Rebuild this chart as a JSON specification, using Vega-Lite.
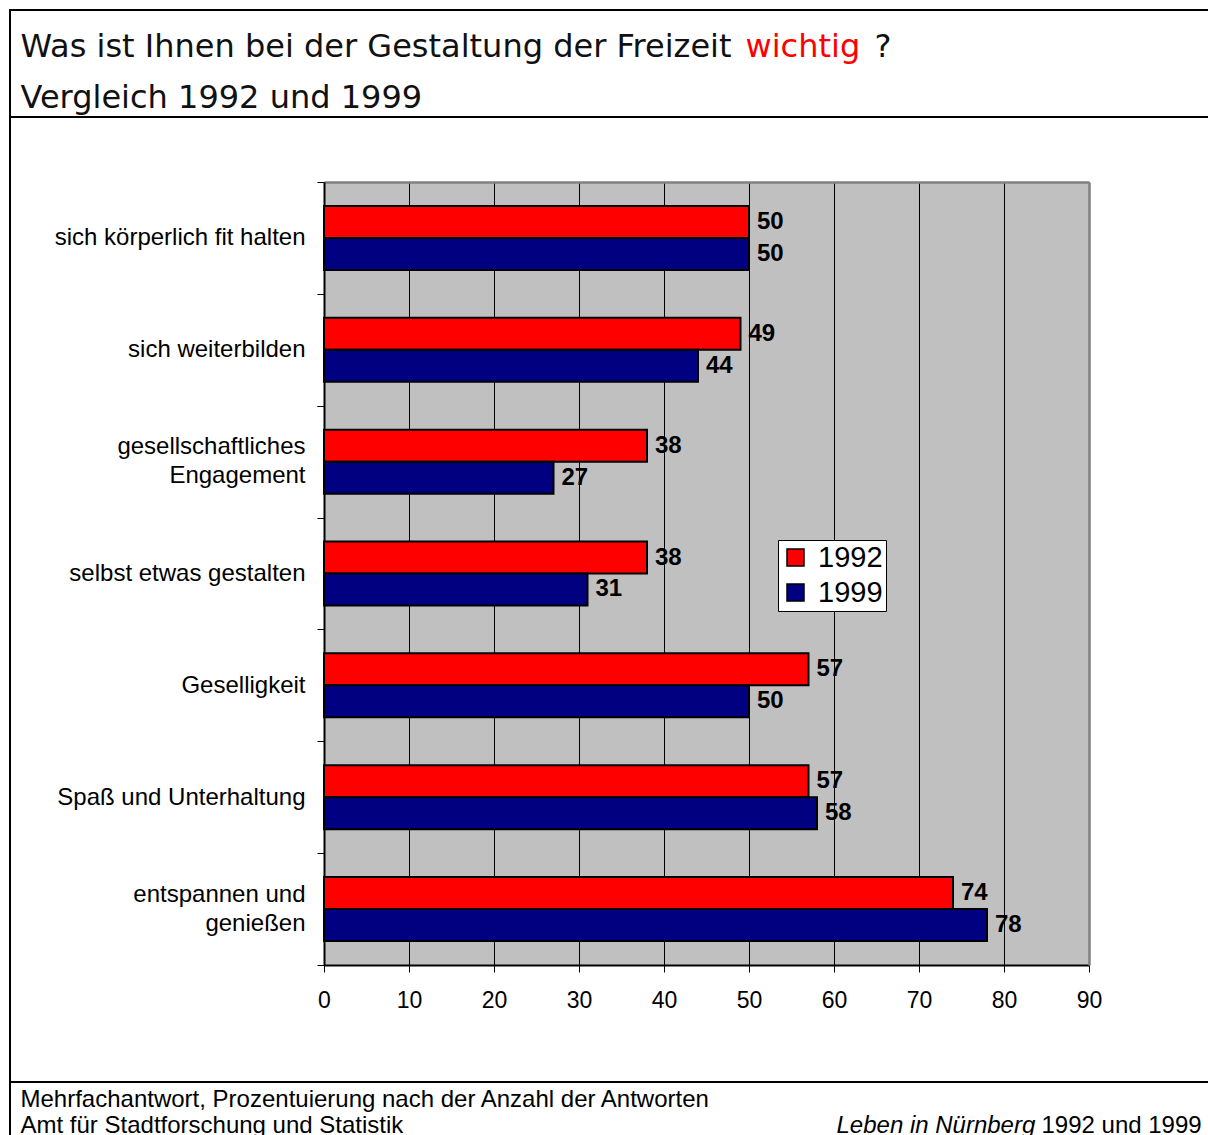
{
  "$schema": "https://vega.github.io/schema/vega-lite/v6.json",
  "background": "white",
  "padding": {"left": 9, "top": 9, "right": 0, "bottom": 0},
  "spacing": 0,
  "bounds": "flush",
  "datasets": {
    "answers": [
      {"cat": "sich körperlich fit halten", "year": "1992", "value": 50},
      {"cat": "sich körperlich fit halten", "year": "1999", "value": 50},
      {"cat": "sich weiterbilden", "year": "1992", "value": 49},
      {"cat": "sich weiterbilden", "year": "1999", "value": 44},
      {"cat": "gesellschaftliches|Engagement", "year": "1992", "value": 38},
      {"cat": "gesellschaftliches|Engagement", "year": "1999", "value": 27},
      {"cat": "selbst etwas gestalten", "year": "1992", "value": 38},
      {"cat": "selbst etwas gestalten", "year": "1999", "value": 31},
      {"cat": "Geselligkeit", "year": "1992", "value": 57},
      {"cat": "Geselligkeit", "year": "1999", "value": 50},
      {"cat": "Spaß und Unterhaltung", "year": "1992", "value": 57},
      {"cat": "Spaß und Unterhaltung", "year": "1999", "value": 58},
      {"cat": "entspannen und|genießen", "year": "1992", "value": 74},
      {"cat": "entspannen und|genießen", "year": "1999", "value": 78}
    ]
  },
  "vconcat": [
    {
      "width": 1202,
      "height": 107,
      "view": {"stroke": "black", "strokeWidth": 2, "fill": null},
      "data": {"values": []},
      "layer": [
        {
          "mark": {"type": "point", "opacity": 0},
          "encoding": {
            "x": {"field": "v", "type": "quantitative", "scale": {"domain": [0, 1]},
              "axis": {"orient": "bottom", "title": "wichtig", "labels": false, "ticks": false, "domain": false, "grid": false,
                "titleColor": "#FF0000", "titleFont": "DejaVu Sans", "titleFontSize": 32, "titleFontWeight": "normal",
                "titleAlign": "left", "titleBaseline": "alphabetic", "titleAngle": 0, "titleX": 735, "titleY": -61, "titleLimit": 2000}},
            "y": {"field": "v", "type": "quantitative", "scale": {"domain": [0, 1]},
              "axis": {"orient": "left", "title": "?", "labels": false, "ticks": false, "domain": false, "grid": false,
                "titleColor": "#111111", "titleFont": "DejaVu Sans", "titleFontSize": 32, "titleFontWeight": "normal",
                "titleAlign": "left", "titleBaseline": "alphabetic", "titleAngle": 0, "titleX": 864, "titleY": 46, "titleLimit": 2000}}
          }
        },
        {
          "mark": {"type": "point", "opacity": 0},
          "encoding": {
            "x": {"field": "v", "type": "quantitative", "scale": {"domain": [0, 1]},
              "axis": {"orient": "top", "title": "Was ist Ihnen bei der Gestaltung der Freizeit", "labels": false, "ticks": false, "domain": false, "grid": false,
                "titleColor": "#111111", "titleFont": "DejaVu Sans", "titleFontSize": 32, "titleFontWeight": "normal",
                "titleAlign": "left", "titleBaseline": "alphabetic", "titleAngle": 0, "titleX": 10, "titleY": 46, "titleLimit": 2000}},
            "y": {"field": "v", "type": "quantitative", "scale": {"domain": [0, 1]},
              "axis": {"orient": "right", "title": "Vergleich 1992 und 1999", "labels": false, "ticks": false, "domain": false, "grid": false,
                "titleColor": "#111111", "titleFont": "DejaVu Sans", "titleFontSize": 32, "titleFontWeight": "normal",
                "titleAlign": "left", "titleBaseline": "alphabetic", "titleAngle": 0, "titleX": -1192, "titleY": 97, "titleLimit": 2000}}
          }
        }
      ],
      "resolve": {"scale": {"x": "independent", "y": "independent"}, "axis": {"x": "independent", "y": "independent"}}
    },
    {
      "width": 1202,
      "height": 965,
      "view": {"stroke": "black", "strokeWidth": 2, "fill": null},
      "data": {"name": "answers"},
      "encoding": {
        "yOffset": {"field": "year", "type": "nominal", "scale": {"paddingInner": 0, "paddingOuter": 0.748}}
      },
      "layer": [
        {
          "mark": {"type": "bar", "stroke": "black", "strokeWidth": 2},
          "encoding": {
            "y": {"field": "cat", "type": "nominal", "sort": null,
              "scale": {"range": [65, 848], "paddingInner": 0, "paddingOuter": 0},
              "axis": {"orient": "left", "title": null, "offset": -314,
                "values": ["sich körperlich fit halten", "sich weiterbilden", "selbst etwas gestalten", "Geselligkeit", "Spaß und Unterhaltung"],
                "labelFont": "Liberation Sans", "labelFontSize": 24,
                "labelColor": "black", "labelPadding": 12, "labelLimit": 400,
                "tickSize": 7, "tickColor": "black", "tickWidth": 1, "tickBand": "extent",
                "domainColor": "black", "domainWidth": 2, "grid": false}},
            "x": {"field": "value", "type": "quantitative", "scale": {"domain": [0, 90], "nice": false, "range": [314, 1079]},
              "axis": {"orient": "top", "offset": -65, "title": null, "values": [5, 15, 25, 35, 45, 55, 65, 75, 85],
                "labels": false, "ticks": false, "domain": true, "domainColor": "#808080", "domainWidth": 2.5,
                "grid": true, "gridColor": "#C0C0C0", "gridWidth": 85, "gridOpacity": 1}},
            "color": {"field": "year", "type": "nominal",
              "scale": {"domain": ["1992", "1999"], "range": ["#FF0000", "#000080"]},
              "legend": {"title": null, "orient": "none", "legendX": 768, "legendY": 530,
                "fillColor": "white", "strokeColor": "black", "padding": 3, "rowPadding": 5,
                "symbolType": "square", "symbolSize": 289, "symbolStrokeColor": "black", "symbolStrokeWidth": 1.5,
                "labelFont": "Liberation Sans", "labelFontSize": 29, "labelColor": "black", "labelOffset": 8}}
          }
        },
        {
          "transform": [{"filter": "datum.year === '1992'"}],
          "mark": {"type": "text", "align": "left", "baseline": "middle", "dx": 8,
            "font": "Liberation Sans", "fontSize": 24, "fontWeight": "bold", "color": "black"},
          "encoding": {
            "y": {"field": "cat", "type": "nominal", "sort": null,
              "axis": {"orient": "right", "offset": -123, "title": null, "labels": false, "ticks": false, "grid": false,
                "domain": true, "domainColor": "#808080", "domainWidth": 2.5}},
            "x": {"field": "value", "type": "quantitative",
              "axis": {"orient": "top", "offset": -65, "title": null, "values": [10, 20, 30, 40, 50, 60, 70, 80],
                "labels": false, "ticks": false, "domain": false,
                "grid": true, "gridColor": "black", "gridWidth": 1, "gridOpacity": 1}},
            "text": {"field": "value", "type": "quantitative"}
          }
        },
        {
          "transform": [{"filter": "datum.year === '1999'"}],
          "mark": {"type": "text", "align": "left", "baseline": "middle", "dx": 8,
            "font": "Liberation Sans", "fontSize": 24, "fontWeight": "bold", "color": "black"},
          "encoding": {
            "y": {"field": "cat", "type": "nominal", "sort": null,
              "axis": {"orient": "left", "title": null, "offset": -314,
                "values": ["gesellschaftliches|Engagement", "entspannen und|genießen"],
                "labelExpr": "split(datum.label, '|')", "labelFont": "Liberation Sans", "labelFontSize": 24,
                "labelColor": "black", "labelPadding": 12, "labelLimit": 400, "labelLineHeight": 29, "labelOffset": -15,
                "ticks": true, "tickSize": 7, "tickColor": "black", "tickWidth": 1, "tickBand": "extent",
                "domain": false, "grid": false}},
            "x": {"field": "value", "type": "quantitative",
              "axis": {"orient": "bottom", "offset": -117, "title": null, "values": [0, 10, 20, 30, 40, 50, 60, 70, 80, 90],
                "labelFont": "Liberation Sans", "labelFontSize": 23, "labelColor": "black", "labelPadding": 17, "labelFlush": false,
                "tickSize": 7, "tickColor": "black", "tickWidth": 1,
                "domainColor": "black", "domainWidth": 2, "grid": false}},
            "text": {"field": "value", "type": "quantitative"}
          }
        }
      ],
      "resolve": {"axis": {"x": "independent", "y": "independent"}}
    },
    {
      "width": 1202,
      "height": 60,
      "view": {"stroke": "black", "strokeWidth": 2, "fill": null},
      "data": {"values": []},
      "layer": [
        {
          "mark": {"type": "point", "opacity": 0},
          "encoding": {
            "x": {"field": "v", "type": "quantitative", "scale": {"domain": [0, 1]},
              "axis": {"orient": "bottom", "title": "Leben in Nürnberg", "labels": false, "ticks": false, "domain": false, "grid": false,
                "titleColor": "black", "titleFont": "Liberation Sans", "titleFontSize": 24, "titleFontWeight": "normal", "titleFontStyle": "italic",
                "titleAlign": "left", "titleBaseline": "alphabetic", "titleAngle": 0, "titleX": 826, "titleY": -10, "titleLimit": 2000}},
            "y": {"field": "v", "type": "quantitative", "scale": {"domain": [0, 1]},
              "axis": {"orient": "left", "title": "1992 und 1999", "labels": false, "ticks": false, "domain": false, "grid": false,
                "titleColor": "black", "titleFont": "Liberation Sans", "titleFontSize": 24, "titleFontWeight": "normal",
                "titleAlign": "left", "titleBaseline": "alphabetic", "titleAngle": 0, "titleX": 1031, "titleY": 50, "titleLimit": 2000}}
          }
        },
        {
          "mark": {"type": "point", "opacity": 0},
          "encoding": {
            "x": {"field": "v", "type": "quantitative", "scale": {"domain": [0, 1]},
              "axis": {"orient": "top", "title": ["Mehrfachantwort, Prozentuierung nach der Anzahl der Antworten", "Amt für Stadtforschung und Statistik"],
                "labels": false, "ticks": false, "domain": false, "grid": false,
                "titleColor": "black", "titleFont": "Liberation Sans", "titleFontSize": 24, "titleFontWeight": "normal",
                "titleAlign": "left", "titleBaseline": "alphabetic", "titleAngle": 0, "titleX": 10, "titleY": 24, "titleLineHeight": 26, "titleLimit": 2000}},
            "y": {"field": "v", "type": "quantitative", "scale": {"domain": [0, 1]}, "axis": null}
          }
        }
      ],
      "resolve": {"scale": {"x": "independent", "y": "independent"}, "axis": {"x": "independent", "y": "independent"}}
    }
  ]
}
